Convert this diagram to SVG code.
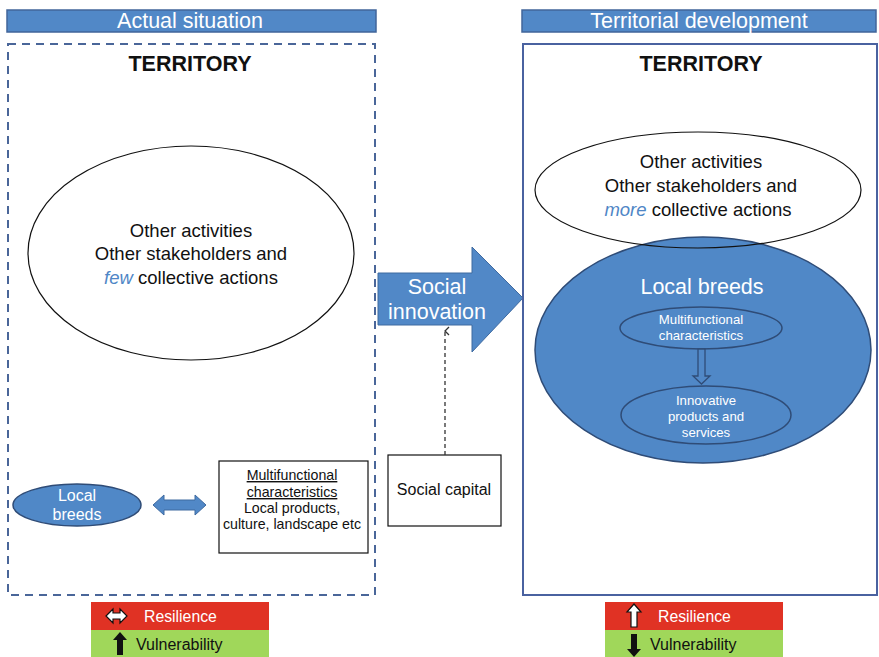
<svg xmlns="http://www.w3.org/2000/svg" width="879" height="657" viewBox="0 0 879 657">
  <defs>
    <style>
      text { font-family: "Liberation Sans", Arial, sans-serif; }
      .hdr { fill: #5188c7; stroke: #41659a; stroke-width: 1.5; }
      .hdrt { fill: #ffffff; font-size: 21.5px; text-anchor: middle; }
      .ttl { fill: #111111; font-size: 21.5px; font-weight: bold; text-anchor: middle; }
      .body { fill: #111111; font-size: 18.5px; text-anchor: middle; }
      .em { fill: #4f86c6; font-style: italic; }
      .small { fill: #111111; font-size: 14.2px; text-anchor: middle; }
      .wsmall { fill: #ffffff; font-size: 13.2px; text-anchor: middle; }
      .blue { fill: #5088c7; stroke: #2f4c77; stroke-width: 1.5; }
      .leg { fill: #111111; font-size: 16px; }
    </style>
    <marker id="chev" markerWidth="10" markerHeight="10" refX="5" refY="2" orient="auto" markerUnits="userSpaceOnUse">
      <path d="M1,6 L5,2 L9,6" fill="none" stroke="#333333" stroke-width="1.3"/>
    </marker>
  </defs>

  <rect width="879" height="657" fill="#ffffff"/>

  <!-- Left panel: actual situation -->
  <g id="hdr-actual">
    <rect class="hdr" x="7" y="10" width="369" height="22"/>
    <text class="hdrt" x="190" y="28">Actual situation</text>
  </g>
  <g id="territory-actual">
    <rect x="8" y="44" width="367" height="551" fill="none" stroke="#4a6699" stroke-width="2" stroke-dasharray="8,6"/>
    <text class="ttl" x="190" y="71">TERRITORY</text>
  </g>
  <g id="others-actual">
    <ellipse cx="191" cy="253" rx="163" ry="107" fill="#ffffff" stroke="#111111" stroke-width="1.2"/>
    <text class="body" x="191" y="237">Other activities</text>
    <text class="body" x="191" y="260">Other stakeholders and</text>
    <text class="body" x="191" y="284"><tspan class="em">few</tspan> collective actions</text>
  </g>
  <g id="breeds-actual">
    <ellipse class="blue" cx="77" cy="505" rx="64" ry="21"/>
    <text x="77" y="501" fill="#ffffff" font-size="16" text-anchor="middle">Local</text>
    <text x="77" y="520" fill="#ffffff" font-size="16" text-anchor="middle">breeds</text>
  </g>
  <g id="multi-actual">
    <rect x="219" y="461" width="149" height="92" fill="#ffffff" stroke="#111111" stroke-width="1.2"/>
    <text class="small" x="292" y="480" text-decoration="underline">Multifunctional</text>
    <text class="small" x="292" y="497" text-decoration="underline">characteristics</text>
    <text class="small" x="292" y="513">Local products,</text>
    <text class="small" x="292" y="529">culture, landscape etc</text>
  </g>

  <!-- Centre: social innovation and social capital -->
  <g id="social-innovation">
    <path d="M378,273 L472,273 L472,247 L523,298 L472,352 L472,325 L378,325 Z" fill="#5188c7" stroke="#3f6aa0" stroke-width="1"/>
    <text x="437" y="294" fill="#ffffff" font-size="21.5" text-anchor="middle">Social</text>
    <text x="437" y="319" fill="#ffffff" font-size="21.5" text-anchor="middle">innovation</text>
  </g>
  <g id="social-capital">
    <rect x="388" y="455" width="113" height="71" fill="#ffffff" stroke="#111111" stroke-width="1.2"/>
    <text x="444" y="495" fill="#111111" font-size="16" text-anchor="middle">Social capital</text>
  </g>

  <!-- Right panel: territorial development -->
  <g id="hdr-development">
    <rect class="hdr" x="522" y="10" width="354" height="22"/>
    <text class="hdrt" x="699" y="28">Territorial development</text>
  </g>
  <g id="territory-development">
    <rect x="523" y="44" width="354" height="551" fill="none" stroke="#4a62a0" stroke-width="2"/>
    <text class="ttl" x="701" y="71">TERRITORY</text>
  </g>
  <g id="others-development">
    <ellipse cx="698" cy="190" rx="163" ry="58" fill="#ffffff" stroke="none"/>
    <text class="body" x="701" y="168">Other activities</text>
    <text class="body" x="701" y="192">Other stakeholders and</text>
    <text class="body" x="698" y="216"><tspan class="em">more</tspan> collective actions</text>
  </g>
  <g id="breeds-development">
    <ellipse class="blue" cx="703" cy="350" rx="168" ry="113" stroke-width="1.2"/>
    <text x="702" y="294" fill="#ffffff" font-size="21.5" text-anchor="middle">Local breeds</text>
  </g>
  <g id="others-development-outline">
    <ellipse cx="698" cy="190" rx="163" ry="58" fill="none" stroke="#111111" stroke-width="1.2"/>
  </g>
  <g id="multi-development">
    <ellipse class="blue" cx="701" cy="328" rx="81" ry="21"/>
    <text class="wsmall" x="701" y="324">Multifunctional</text>
    <text class="wsmall" x="701" y="340">characteristics</text>
  </g>
  <g id="innovative-products">
    <ellipse class="blue" cx="706" cy="415" rx="85" ry="29"/>
    <text class="wsmall" x="706" y="405">Innovative</text>
    <text class="wsmall" x="706" y="421">products and</text>
    <text class="wsmall" x="706" y="437">services</text>
  </g>

  <!-- Connectors -->
  <g id="connectors">
    <path d="M153,505 L164,495 L164,500 L195,500 L195,495 L206,505 L195,515 L195,510 L164,510 L164,515 Z" fill="#5188c7" stroke="#3f6aa0" stroke-width="1"/>
    <line x1="445" y1="455" x2="445" y2="331" stroke="#333333" stroke-width="1.3" stroke-dasharray="4,3" marker-end="url(#chev)"/>
    <path d="M698,349 L705,349 L705,376 L710,376 L701.5,384 L693,376 L698,376 Z" fill="#5188c7" stroke="#2f4c77" stroke-width="1.3"/>
  </g>

  <!-- Legends -->
  <g id="legend-actual">
    <rect x="91" y="602" width="178" height="28" fill="#e03224"/>
    <rect x="91" y="630" width="178" height="27" fill="#a0d75a"/>
    <path d="M106,616 L113,609 L113,613 L120,613 L120,609 L127,616 L120,623 L120,619 L113,619 L113,623 Z" fill="#ffffff" stroke="#111111" stroke-width="1.2"/>
    <text x="144" y="622" fill="#ffffff" font-size="15.8">Resilience</text>
    <path d="M120,632 L127,640 L123,640 L123,655 L117,655 L117,640 L113,640 Z" fill="#111111"/>
    <text class="leg" x="136" y="650">Vulnerability</text>
  </g>
  <g id="legend-development">
    <rect x="605" y="602" width="178" height="28" fill="#e03224"/>
    <rect x="605" y="630" width="178" height="27" fill="#a0d75a"/>
    <path d="M634,604 L641,612 L637,612 L637,627 L631,627 L631,612 L627,612 Z" fill="#ffffff" stroke="#111111" stroke-width="1.2"/>
    <text x="658" y="622" fill="#ffffff" font-size="15.8">Resilience</text>
    <path d="M634,657 L641,649 L637,649 L637,634 L631,634 L631,649 L627,649 Z" fill="#111111"/>
    <text class="leg" x="650" y="650">Vulnerability</text>
  </g>
</svg>
